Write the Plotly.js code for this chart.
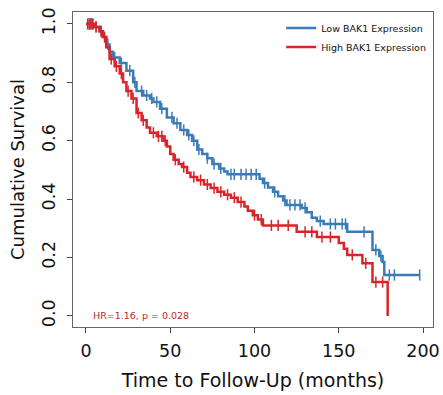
<!DOCTYPE html>
<html><head><meta charset="utf-8">
<script src="https://cdn.plot.ly/plotly-3.0.1.min.js"></script>
<style>body{margin:0;background:#fff}#c{width:443px;height:395px}</style>
</head><body><div id="c"></div>
<script>
// Low BAK1 expression: step times and survival
const lowTimes = [0,5,8,10,12,14,16,20,24,28,30,34,38,40,44,48,52,56,60,63,66,69,72,75,79,82,84,103,105,108,111,114,117,119,128,131,134,137,141,155,170,174,176,177,198];
const lowSurv  = [1.0,0.99,0.975,0.955,0.93,0.905,0.885,0.866,0.84,0.80,0.77,0.755,0.745,0.733,0.71,0.68,0.66,0.637,0.62,0.60,0.57,0.555,0.54,0.52,0.505,0.495,0.485,0.47,0.455,0.44,0.425,0.41,0.395,0.38,0.37,0.355,0.336,0.325,0.315,0.288,0.226,0.205,0.185,0.14,0.14];
const lowCensor = [2,3,4,6,9,13,17,21,26,29,33,36,39,42,45,51,54,58,61,64,67,72,76,80,86,88,92,95,98,101,106,112,118,121,124,127,130,139,145,148,152,154,165,172,175,180,183,198];

// High BAK1 expression: step times and survival
const highTimes = [0,5,8,10,12,14,17,20,22,24,27,30,33,36,38,42,46,48,50,52,55,57,60,62,66,70,74,78,82,86,90,94,96,99,102,105,125,137,150,153,155,164,170,179];
const highSurv  = [1.0,0.99,0.975,0.955,0.92,0.88,0.855,0.83,0.80,0.77,0.745,0.695,0.67,0.645,0.627,0.615,0.60,0.58,0.555,0.535,0.52,0.51,0.49,0.476,0.465,0.45,0.438,0.425,0.415,0.405,0.39,0.375,0.36,0.345,0.33,0.31,0.288,0.27,0.25,0.23,0.209,0.18,0.116,0.0];
const highCensor = [1,2,3,4,6,9,11,15,18,21,25,28,31,34,40,43,45,47,53,58,64,68,72,76,80,84,88,92,100,104,110,114,120,130,134,140,145,158,166,172,176];

const seriesNames = ['Low BAK1 Expression','High BAK1 Expression'];
const annotationText = 'HR=1.16, p = 0.028';

const blue = '#3b7bb6', red = '#d92529';

function stepAt(times, surv, t){
  let v = surv[0];
  for (let i=0;i<times.length;i++){ if (times[i] <= t) v = surv[i]; else break; }
  return v;
}

function traces(times, surv, censor, name, color){
  return [
    {x: times, y: surv, mode:'lines', name: name, line:{color:color, width:2.5, shape:'hv'}},
    {x: censor, y: censor.map(t=>stepAt(times,surv,t)), mode:'markers', showlegend:false, hoverinfo:'skip',
     marker:{symbol:'line-ns-open', size:8, color:color, line:{color:color, width:1.5}}}
  ];
}

const data = [
  ...traces(lowTimes, lowSurv, lowCensor, seriesNames[0], blue),
  ...traces(highTimes, highSurv, highCensor, seriesNames[1], red)
];

const font = 'DejaVu Sans, sans-serif';
const layout = {
  width:443, height:395,
  margin:{l:73, r:10, t:12, b:68},
  paper_bgcolor:'#fff', plot_bgcolor:'#fff',
  font:{family:font, color:'#111'},
  showlegend:true,
  legend:{x:0.995, xanchor:'right', y:0.995, yanchor:'top', bgcolor:'rgba(0,0,0,0)',
          font:{size:9.5, family:font}, itemwidth:30, tracegroupgap:0},
  xaxis:{range:[-7.7,205.9], tickvals:[0,50,100,150,200], ticks:'outside', ticklen:5, tickcolor:'#444',
         showgrid:false, zeroline:false, showline:true, mirror:true, linecolor:'#666', linewidth:1,
         tickfont:{size:17.5, family:font}, ticklabelstandoff:3,
         title:{text:'Time to Follow-Up (months)', font:{size:19, family:font}, standoff:13}},
  yaxis:{range:[-0.038,1.041], tickvals:[0,0.2,0.4,0.6,0.8,1.0], ticktext:['0.0','0.2','0.4','0.6','0.8','1.0'],
         tickangle:-90, ticks:'outside', ticklen:5, tickcolor:'#444',
         showgrid:false, zeroline:false, showline:true, mirror:true, linecolor:'#666', linewidth:1,
         tickfont:{size:17.5, family:font}, ticklabelstandoff:5,
         title:{text:'Cumulative Survival', font:{size:18, family:font}, standoff:9}},
  annotations:[{x:3, y:0, xref:'x', yref:'y', text:annotationText, showarrow:false, xanchor:'left', yanchor:'middle',
                font:{size:9.5, color:'#c0282c', family:font}}]
};

Plotly.newPlot('c', data, layout, {displayModeBar:false, staticPlot:true});
</script></body></html>
